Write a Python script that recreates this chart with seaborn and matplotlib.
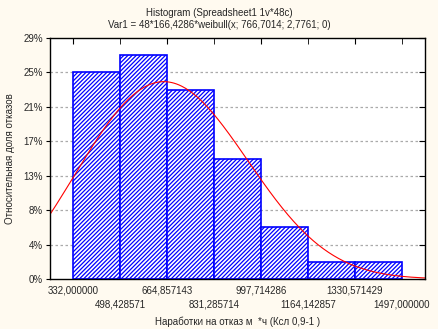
import numpy as np
import pandas as pd
import matplotlib
matplotlib.use("Agg")
import matplotlib.pyplot as plt
import seaborn as sns

# ---- data ----
bin_edges = [332.0, 498.428571, 664.857143, 831.285714, 997.714286,
             1164.142857, 1330.571429, 1497.0]
counts = [12, 13, 11, 7, 3, 1, 1]
n_total = 48
bin_width = 166.4286
weib_scale = 766.7014
weib_shape = 2.7761
ytick_counts = [0, 2, 4, 6, 8, 10, 12, 14]
title1 = "Histogram (Spreadsheet1 1v*48c)"
title2 = "Var1 = 48*166,4286*weibull(x; 766,7014; 2,7761; 0)"
xlabel = "Наработки на отказ м  *ч (Ксл 0,9-1 )"
ylabel = "Относительная доля отказов"

sns.set_style("white")
plt.rcParams['font.family'] = ['Liberation Sans', 'DejaVu Sans']
plt.rcParams['hatch.linewidth'] = 0.9

FS = 7.0
bg = "#FFFAF0"
fig = plt.figure(figsize=(4.39, 3.29), dpi=100, facecolor=bg)
ax = fig.add_axes([50/439, 1-279/329, 375/439, 241/329])
ax.set_facecolor("white")

centers = [(bin_edges[i] + bin_edges[i+1]) / 2 for i in range(len(counts))]
df = pd.DataFrame({"x": centers, "w": counts})
sns.histplot(data=df, x="x", weights="w", bins=bin_edges, ax=ax,
             stat="count", element="bars", fill=True)
for p in ax.patches:
    p.set_facecolor("white")
    p.set_edgecolor("#0000FF")
    p.set_hatch("////////")
    p.set_linewidth(1.2)
    p.set_alpha(1)

xlim = (bin_edges[0] - bin_width / 2, bin_edges[-1] + bin_width / 2)
xs = np.linspace(xlim[0], xlim[1], 300)
z = xs / weib_scale
pdf = (weib_shape / weib_scale) * z ** (weib_shape - 1) * np.exp(-z ** weib_shape)
curve = pd.DataFrame({"x": xs, "y": n_total * bin_width * pdf})
sns.lineplot(data=curve, x="x", y="y", ax=ax, color="#FF0000", lw=0.8)

ax.set_xlim(*xlim)
ax.set_ylim(0, 14)

# gridlines
for yc in ytick_counts[1:-1]:
    ax.axhline(yc, color="#AAAAAA", lw=0.9, ls=(0, (2, 2)), zorder=0)

ax.set_yticks(ytick_counts)
ax.set_yticklabels([f"{int(c / n_total * 100 + 0.5)}%" for c in ytick_counts])

fmt = lambda e: f"{e:.6f}".replace(".", ",")
major = bin_edges[0::2]
minor = bin_edges[1::2]
ax.set_xticks(major)
ax.set_xticklabels([fmt(e) for e in major])
ax.set_xticks(minor, minor=True)
ax.set_xticklabels([fmt(e) for e in minor], minor=True)

ax.tick_params(axis="x", which="major", bottom=False, top=True, direction="in",
               length=4, labelsize=FS, pad=5, color="black")
ax.tick_params(axis="x", which="minor", bottom=False, top=True, direction="in",
               length=4, labelsize=FS, pad=15, color="black")
ax.tick_params(axis="y", which="both", left=True, right=True, direction="out",
               length=3, labelsize=FS, pad=2, color="black")
for t in ax.yaxis.get_major_ticks():
    t.tick2line.set_marker(matplotlib.lines.TICKLEFT)
    t.tick2line.set_markersize(4)

for s in ax.spines.values():
    s.set_color("black")
    s.set_linewidth(1.0)

ax.set_xlabel(xlabel, fontsize=FS, labelpad=5)
ax.set_ylabel(ylabel, fontsize=FS, labelpad=6)

fig.text(0.5, 1 - 13/329, title1, ha="center", va="center", fontsize=FS)
fig.text(0.5, 1 - 25/329, title2, ha="center", va="center", fontsize=FS)

fig.savefig("out.png", dpi=100, facecolor=bg)
